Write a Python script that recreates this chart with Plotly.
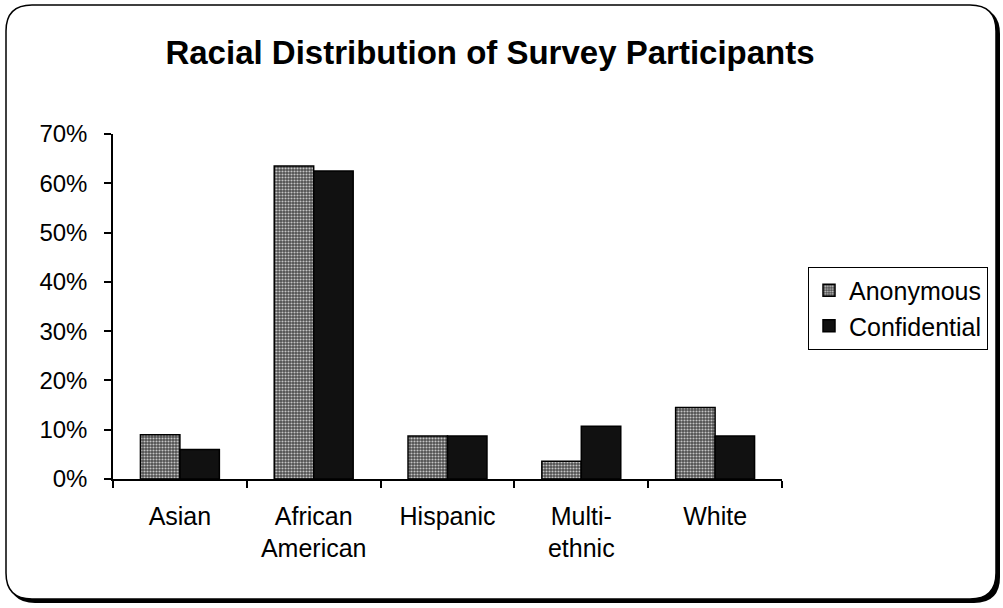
import plotly.graph_objects as go

categories = ["Asian", "African<br>American", "Hispanic", "Multi-<br>ethnic", "White"]
anonymous = [0.09, 0.635, 0.087, 0.036, 0.145]
confidential = [0.06, 0.625, 0.087, 0.107, 0.087]
y_ticks = [0, 0.1, 0.2, 0.3, 0.4, 0.5, 0.6, 0.7]
y_labels = ["0%", "10%", "20%", "30%", "40%", "50%", "60%", "70%"]

W, H = 1003, 608
L, R, T, B = 113, 782, 134, 479
FONT = "Liberation Sans, Arial, sans-serif"


def px_to_paper(x, y):
    return (x - L) / (R - L), (B - y) / (B - T)


def rounded_rect(x0, y0, x1, y1, r):
    pts = [
        ("M", (x0 + r, y0)), ("L", (x1 - r, y0)), ("Q", (x1, y0), (x1, y0 + r)),
        ("L", (x1, y1 - r)), ("Q", (x1, y1), (x1 - r, y1)),
        ("L", (x0 + r, y1)), ("Q", (x0, y1), (x0, y1 - r)),
        ("L", (x0, y0 + r)), ("Q", (x0, y0), (x0 + r, y0)),
    ]
    out = []
    for cmd, *coords in pts:
        s = " ".join("%.5f,%.5f" % px_to_paper(*c) for c in coords)
        out.append(f"{cmd} {s}")
    return " ".join(out) + " Z"


fig = go.Figure()
fig.add_trace(go.Bar(
    name="Anonymous", x=categories, y=anonymous,
    marker=dict(
        color="#6a6a6a",
        line=dict(color="#000000", width=1.5),
        pattern=dict(shape=".", bgcolor="#4e4e4e", fgcolor="#c4c4c4",
                     size=3, solidity=0.4, fillmode="replace"),
    ),
))
fig.add_trace(go.Bar(
    name="Confidential", x=categories, y=confidential,
    marker=dict(color="#111111", line=dict(color="#000000", width=1.5)),
))

# chart frame with drop shadow
fig.add_shape(type="path", xref="paper", yref="paper", layer="below",
              path=rounded_rect(9, 8, 1000, 603, 26),
              fillcolor="#000000", line=dict(width=0))
fig.add_shape(type="path", xref="paper", yref="paper", layer="below",
              path=rounded_rect(6, 5, 996, 599, 26),
              fillcolor="#ffffff", line=dict(color="#000000", width=1.5))

fig.update_layout(
    width=W, height=H,
    margin=dict(l=L, r=W - R, t=T, b=H - B),
    paper_bgcolor="white", plot_bgcolor="rgba(0,0,0,0)",
    barmode="group", bargap=0.41, bargroupgap=0,
    font=dict(family=FONT, size=24, color="black"),
    title=dict(text="<b>Racial Distribution of Survey Participants</b>",
               x=490 / W, xanchor="center", y=1 - 52 / H, yanchor="middle",
               xref="container", yref="container",
               font=dict(family=FONT, size=33, color="black")),
    legend=dict(x=px_to_paper(808, 0)[0], xanchor="left",
                y=px_to_paper(0, 308)[1], yanchor="middle",
                bordercolor="black", borderwidth=1, bgcolor="white",
                font=dict(family=FONT, size=25, color="black"),
                itemwidth=30, tracegroupgap=10),
    showlegend=True,
)
fig.update_xaxes(showline=True, linecolor="black", linewidth=1.5,
                 ticks="outside", ticklen=7, tickcolor="black", tickwidth=1.5,
                 tickson="boundaries", showgrid=False, ticklabelstandoff=14,
                 tickfont=dict(family=FONT, size=25, color="black"))
fig.update_yaxes(range=[0, 0.7], tickvals=y_ticks, ticktext=y_labels,
                 showline=True, linecolor="black", linewidth=1.5,
                 ticks="outside", ticklen=7, tickcolor="black", tickwidth=1.5,
                 showgrid=False, zeroline=False, ticklabelstandoff=12,
                 tickfont=dict(family=FONT, size=24, color="black"))

fig.write_html("out.html")
